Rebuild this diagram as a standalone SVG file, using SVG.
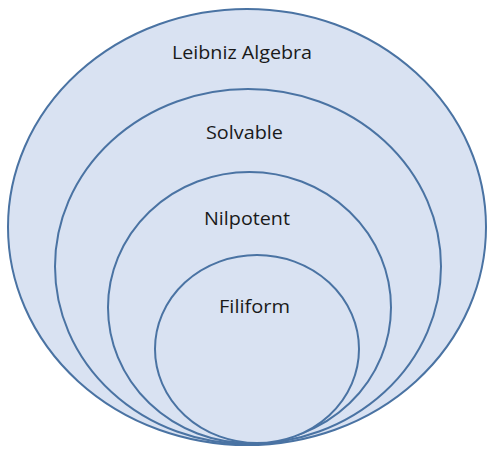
<svg xmlns="http://www.w3.org/2000/svg" width="495" height="455" viewBox="0 0 495 455">
<style>
.set{fill:#d9e2f2;stroke:#4a73a3;stroke-width:2}
.lbl{font-family:"Open Sans","Liberation Sans",sans-serif;font-size:19px;fill:#1a1a1a;text-anchor:middle}
</style>
<rect width="495" height="455" fill="#ffffff"/>
<g id="leibniz"><ellipse class="set" cx="247" cy="227" rx="239" ry="218"/><text class="lbl" x="242" y="59" textLength="140" lengthAdjust="spacingAndGlyphs">Leibniz Algebra</text></g>
<g id="solvable"><ellipse class="set" cx="248" cy="266.5" rx="193" ry="177.5"/><text class="lbl" x="244.5" y="139" textLength="77" lengthAdjust="spacingAndGlyphs">Solvable</text></g>
<g id="nilpotent"><ellipse class="set" cx="249.5" cy="307.5" rx="141.5" ry="135.5"/><text class="lbl" x="247" y="225" textLength="86" lengthAdjust="spacingAndGlyphs">Nilpotent</text></g>
<g id="filiform"><ellipse class="set" cx="257" cy="349" rx="102" ry="94"/><text class="lbl" x="254.5" y="313" textLength="71" lengthAdjust="spacingAndGlyphs">Filiform</text></g>
<g id="connectors"/>
</svg>
